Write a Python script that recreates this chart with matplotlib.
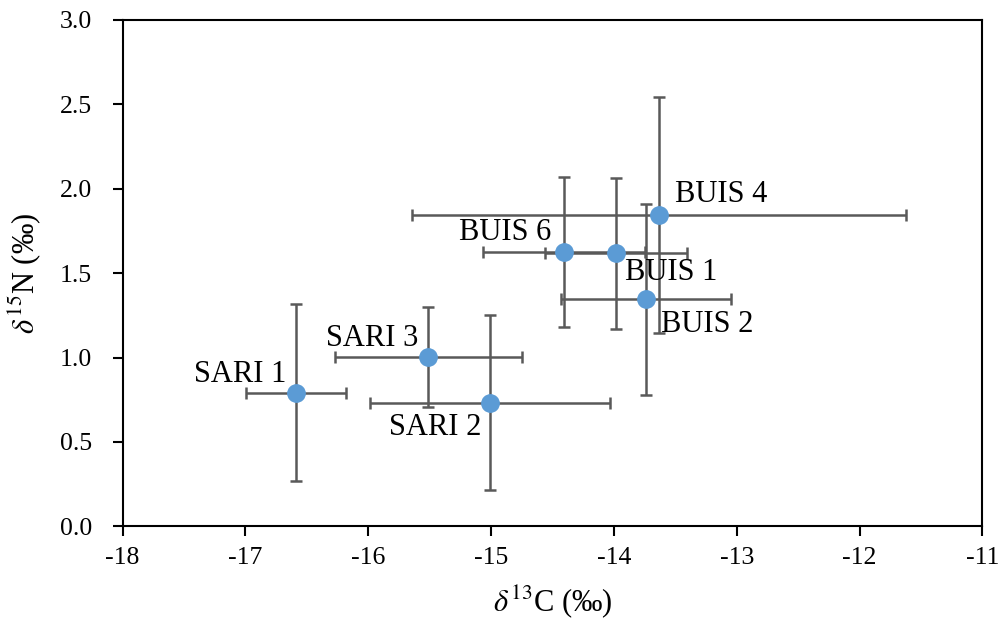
import matplotlib
matplotlib.use("Agg")
import matplotlib.pyplot as plt

# Data
labels = ["SARI 1", "SARI 2", "SARI 3", "BUIS 1", "BUIS 2", "BUIS 4", "BUIS 6"]
d13C = [-16.59, -15.01, -15.51, -13.98, -13.74, -13.63, -14.41]
d15N = [0.792, 0.733, 1.005, 1.617, 1.344, 1.843, 1.622]
d13C_sd = [0.405, 0.975, 0.76, 0.578, 0.69, 2.01, 0.66]
d15N_sd = [0.523, 0.52, 0.296, 0.446, 0.567, 0.70, 0.444]

# label placement (offset in points, alignment)
label_pos = {
    "SARI 1": (-7, 13, "right"),
    "SARI 2": (-6, -18, "right"),
    "SARI 3": (-7, 13, "right"),
    "BUIS 1": (6, -14, "left"),
    "BUIS 2": (11, -18, "left"),
    "BUIS 4": (11, 15, "left"),
    "BUIS 6": (-9, 14, "right"),
}

plt.rcParams["font.family"] = ["Liberation Serif", "DejaVu Serif"]
plt.rcParams["mathtext.fontset"] = "stix"

fig = plt.figure(figsize=(10.03, 6.26), dpi=100)
ax = fig.add_axes([0.1223, 0.159, 0.8571, 0.8097])

ax.errorbar(d13C, d15N, xerr=d13C_sd, yerr=d15N_sd, fmt="o",
            color="#5B9BD5", markersize=12.5, ecolor="#595959",
            elinewidth=1.8, capsize=4.5, capthick=1.8, zorder=3)

for lab, x, y in zip(labels, d13C, d15N):
    dx, dy, ha = label_pos[lab]
    ax.annotate(lab, (x, y), xytext=(dx, dy), textcoords="offset points",
                ha=ha, va="center", fontsize=22, color="black", zorder=4)

ax.set_xlim(-18, -11)
ax.set_ylim(0, 3.0)
ax.set_xticks(range(-18, -10))
ax.set_xticklabels([str(v) for v in range(-18, -10)])
yt = [0.0, 0.5, 1.0, 1.5, 2.0, 2.5, 3.0]
ax.set_yticks(yt)
ax.set_yticklabels([f"{v:.1f}" for v in yt])

for s in ax.spines.values():
    s.set_linewidth(1.5)
    s.set_color("black")
ax.tick_params(direction="out", length=7, width=1.5, labelsize=18.5)
ax.tick_params(axis="x", pad=8)
ax.tick_params(axis="y", pad=15)

ax.set_xlabel(r"$\delta^{13}$C (‰)", fontsize=22, labelpad=10)
ax.set_ylabel(r"$\delta^{15}$N (‰)", fontsize=22, labelpad=12)

fig.savefig("out.png", dpi=100)
